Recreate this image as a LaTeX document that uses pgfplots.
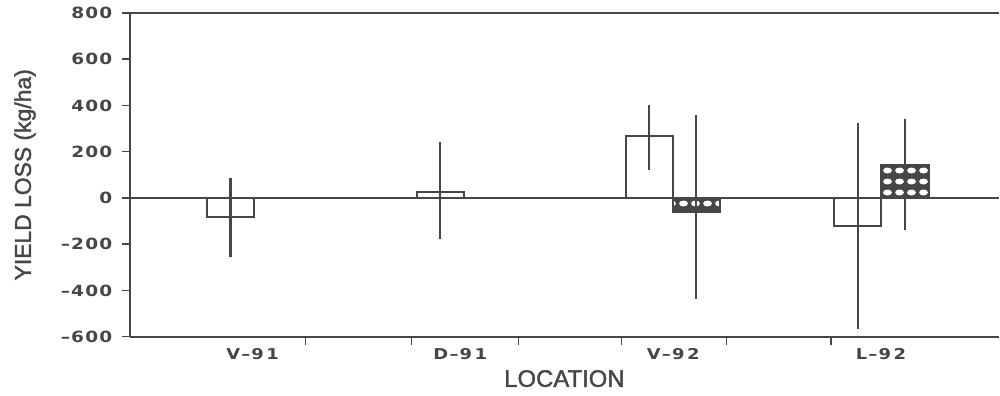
\documentclass[border=0pt]{standalone}
\usepackage{pgfplots}
\pgfplotsset{compat=1.18}
\usepackage{fontspec}
\setmainfont{Liberation Sans}
\newfontfamily\tickfont[FakeStretch=1.2,LetterSpace=8]{DejaVu Sans Bold}
\newfontfamily\labfont[FakeBold=1.6]{Liberation Sans}
\usetikzlibrary{patterns}
\definecolor{ink}{RGB}{70,70,70}

\pgfdeclarepatternformonly{ovals}{\pgfqpoint{0bp}{0bp}}{\pgfqpoint{11.5bp}{11bp}}{\pgfqpoint{11.5bp}{11bp}}{%
  \pgfpathellipse{\pgfqpoint{5.75bp}{5.5bp}}{\pgfqpoint{4.6bp}{0bp}}{\pgfqpoint{0bp}{3.0bp}}%
  \pgfusepath{fill}%
}

\pgfplotstableread{
x y ep em
0.96 -83 170 171
2.96 26 218 203
4.95 266 137 143
6.94 -122 446 447
}\openbars
\pgfplotstableread{
x y ep em
5.40 -60 420 376
7.39 144 199 281
}\hatchbars

\begin{document}
\begin{tikzpicture}
\begin{axis}[
  scale only axis, width=870bp, height=324bp,
  xmin=0, xmax=8.2857, ymin=-600, ymax=800,
  axis x line*=bottom, axis y line*=left,
  axis line style={ink, line width=2bp},
  tick style={ink, line width=1.6bp},
  tick align=outside,
  major tick length=8bp,
  ytick={-600,-400,...,800},
  yticklabels={–600,–400,–200,0,200,400,600,800},
  yticklabel style={font=\fontsize{15.5}{15.5}\tickfont, text=ink, xshift=-6bp},
  xtick={1.676,2.686,3.705,4.686,5.686,6.686},
  xticklabels={},
  extra x ticks={1.17,3.15,5.18,7.16},
  extra x tick labels={V–9\,1,D–9\,1,V–9\,2,L–9\,2},
  extra x tick style={tick style={draw=none}},
  xticklabel style={font=\fontsize{15}{15}\tickfont, text=ink},
  extra y ticks={0,800},
  extra y tick labels={},
  extra y tick style={grid=major, major grid style={ink, line width=2bp}, tick style={draw=none}},
  ylabel={YIELD LOSS (kg/ha)},
  xlabel={LOCATION},
  ylabel style={font=\fontsize{23}{23}\labfont, text=ink, at={(axis description cs:-0.1207,0.5)}, anchor=center},
  xlabel style={font=\fontsize{24}{24}\labfont, text=ink, at={(axis description cs:0.5,-0.1296)}, anchor=center},
  clip=false,
]
\addplot[ybar, bar width=0.45, bar shift=0pt, draw=ink, fill=white, line width=2bp,
  error bars/.cd, y dir=both, y explicit, error mark=none,
  error bar style={line width=2.2bp, ink}]
  table[x=x, y=y, y error plus=ep, y error minus=em] {\openbars};
\addplot[ybar, bar width=0.45, bar shift=0pt, draw=ink, fill=ink, line width=2bp,
  postaction={pattern=ovals, pattern color=white},
  error bars/.cd, y dir=both, y explicit, error mark=none,
  error bar style={line width=2.2bp, ink}]
  table[x=x, y=y, y error plus=ep, y error minus=em] {\hatchbars};
\end{axis}
\useasboundingbox ([xshift=-130bp,yshift=-59bp]current axis.south west) rectangle ([yshift=13bp]current axis.north east);
\end{tikzpicture}
\end{document}
